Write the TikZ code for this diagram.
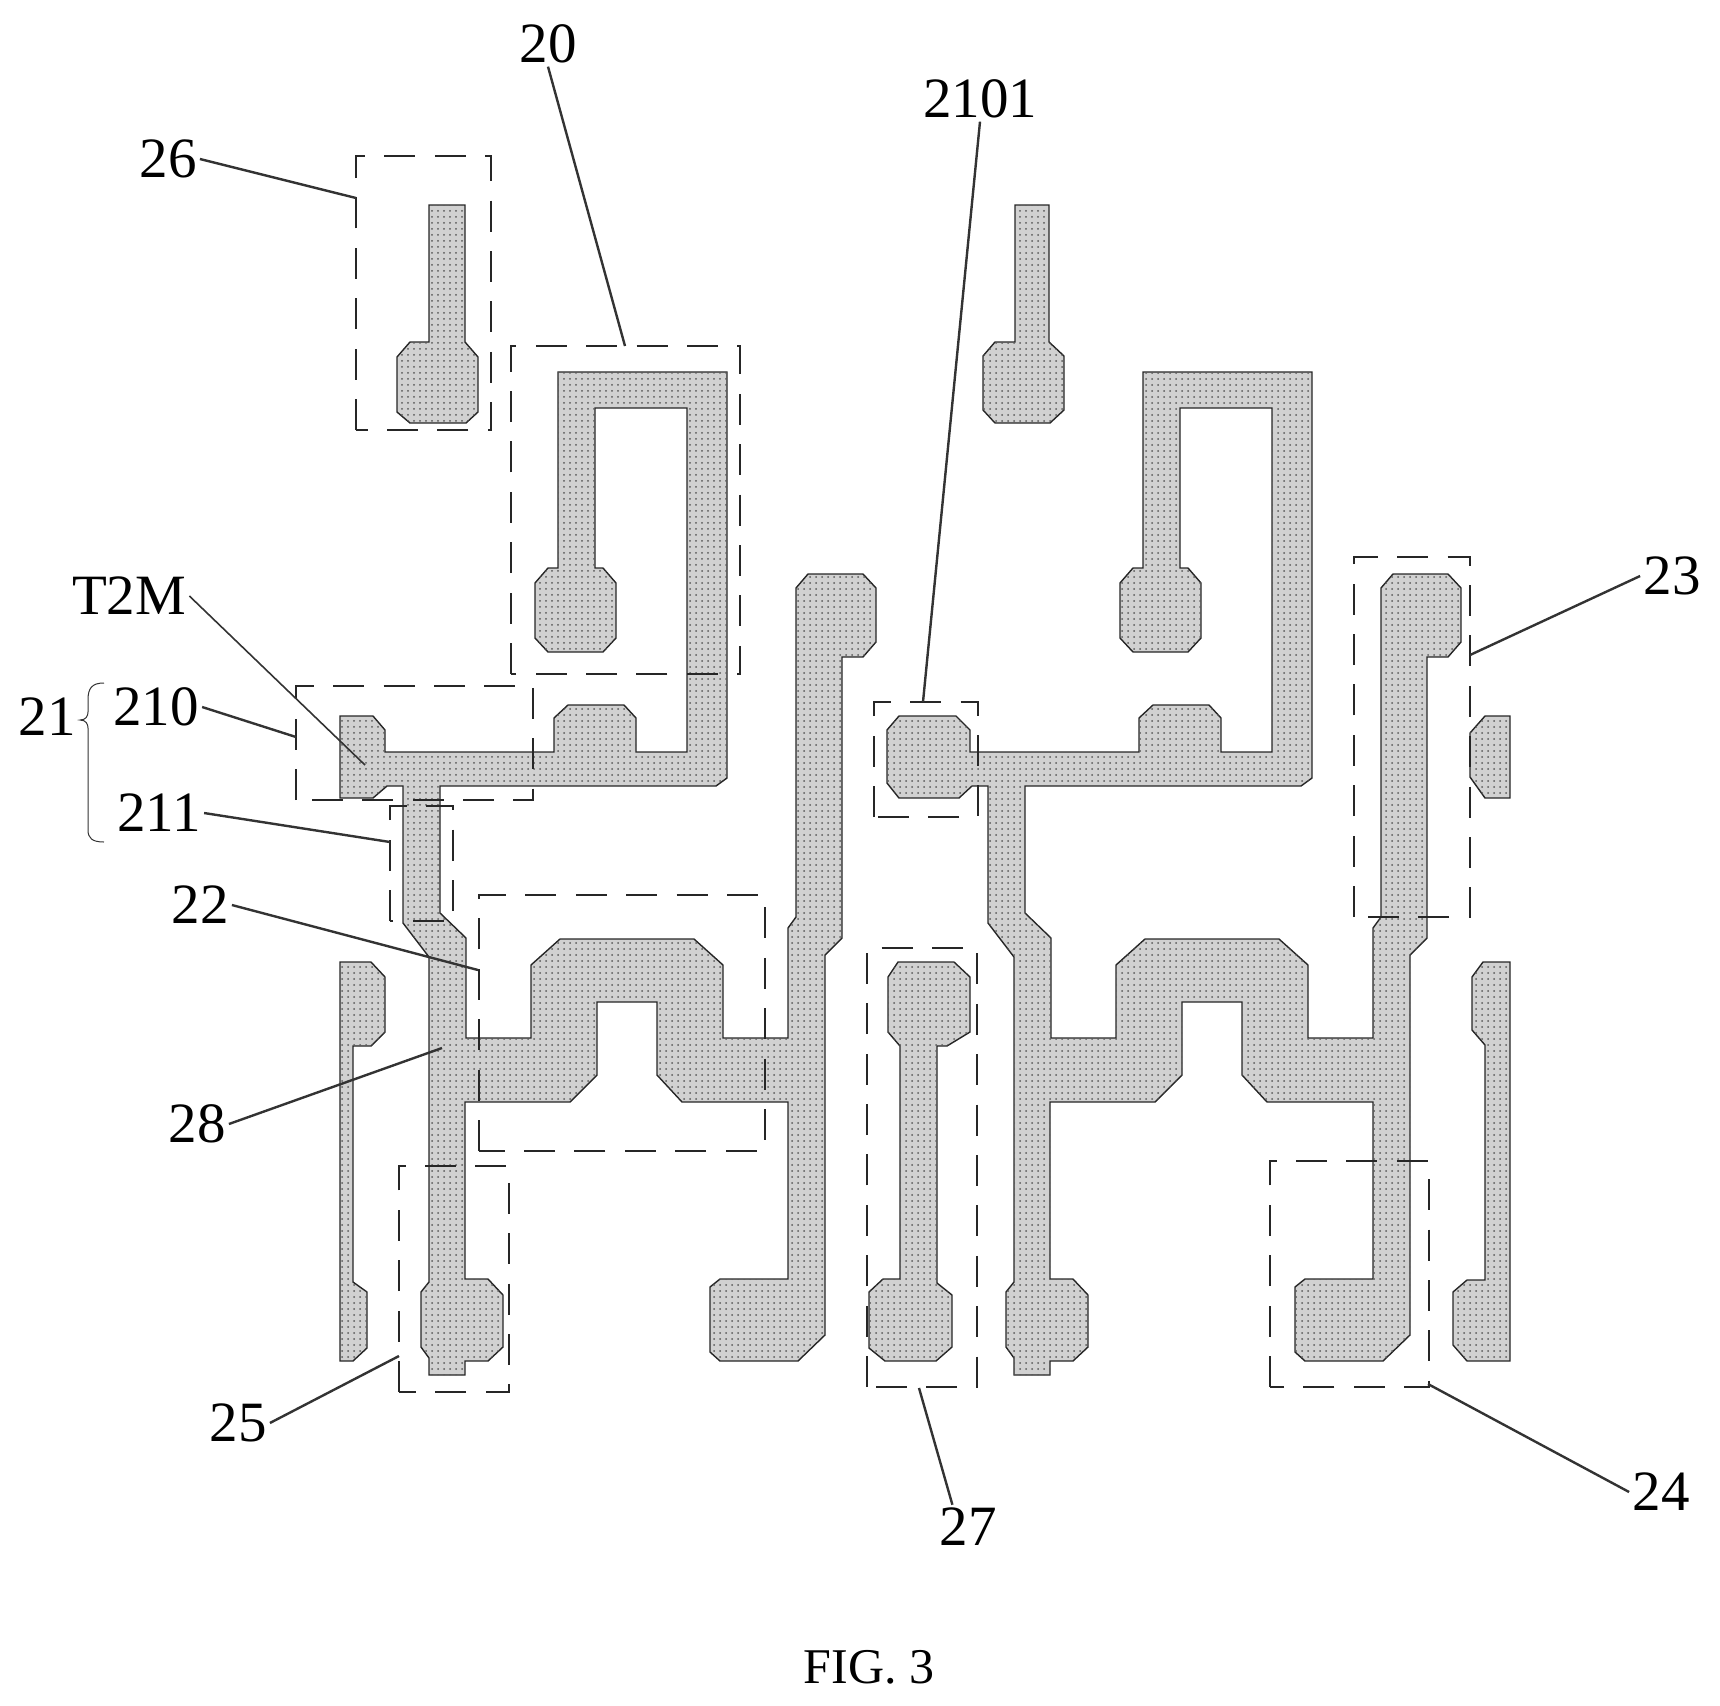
\documentclass[tikz,border=0pt]{standalone}
\usepackage{fontspec}
\setmainfont{Liberation Serif}
\usetikzlibrary{patterns}
\newcommand{\cellbody}{(385,730) -- (385,752) -- (554,752) -- (554,718) -- (568,705) -- (624,705) -- (636,718) -- (636,752) -- (687,752) -- (687,408) -- (595,408) -- (595,568) -- (603,568) -- (616,583) -- (616,638) -- (603,652) -- (548,652) -- (535,638) -- (535,583) -- (548,568) -- (558,568) -- (558,372) -- (727,372) -- (727,778) -- (716,786) -- (440,786) -- (440,913) -- (466,938) -- (466,1038) -- (531,1038) -- (531,965) -- (560,939) -- (694,939) -- (723,965) -- (723,1038) -- (788,1038) -- (788,928) -- (796,917) -- (796,588) -- (808,574) -- (863,574) -- (876,588) -- (876,642) -- (863,657) -- (842,657) -- (842,938) -- (825,955) -- (825,1335) -- (798,1361) -- (720,1361) -- (710,1352) -- (710,1287) -- (720,1279) -- (788,1279) -- (788,1102) -- (682,1102) -- (657,1075) -- (657,1002) -- (597,1002) -- (597,1075) -- (570,1102) -- (465,1102) -- (465,1279) -- (488,1279) -- (503,1295) -- (503,1347) -- (488,1361) -- (465,1361) -- (465,1375) -- (429,1375) -- (429,1358) -- (421,1347) -- (421,1292) -- (429,1282) -- (429,957) -- (403,923) -- (403,786)}
\newcommand{\dashrect}[4]{\draw[dbox] (#1,#4) -- (#1,#2) -- (#3,#2) -- (#3,#4) -- cycle;}
\tikzset{
  metal/.style={draw=black!85,line width=0.7pt,fill=black!18,postaction={pattern=dots,pattern color=black!65}},
  dbox/.style={draw=black!85,line width=1.2pt,dash pattern=on 15.5pt off 9.7pt},
  leader/.style={draw=black!80,line width=1.2pt},
  lab/.style={inner sep=1.5pt,font=\fontsize{28.5}{30}\selectfont},
}
\begin{document}
\begin{tikzpicture}[x=0.5pt,y=-0.5pt]
\useasboundingbox (0,0) rectangle (1720,1705);
% metal: left cell and its right copy
\path[metal] (340,716) -- (373,716) -- \cellbody -- (387,786) -- (373,798) -- (340,798) -- cycle;
\begin{scope}[shift={(585,0)}]
\path[metal] (302,730) -- (314,716) -- (371,716) -- \cellbody -- (387,786) -- (374,798) -- (314,798) -- (302,783) -- cycle;
\end{scope}
% top stems with pads
\path[metal] (429,205) -- (465,205) -- (465,342) -- (478,357) -- (478,412) -- (466,423) -- (410,423) -- (397,412) -- (397,357) -- (410,342) -- (429,342) -- cycle;
\path[metal] (1015,205) -- (1049,205) -- (1049,342) -- (1064,356) -- (1064,410) -- (1050,423) -- (995,423) -- (983,410) -- (983,356) -- (995,342) -- (1015,342) -- cycle;
% left strip
\path[metal] (340,962) -- (371,962) -- (385,977) -- (385,1032) -- (371,1046) -- (353,1046) -- (353,1282) -- (367,1292) -- (367,1348) -- (353,1361) -- (340,1361) -- cycle;
% middle bar
\path[metal] (898,962) -- (954,962) -- (970,977) -- (970,1032) -- (947,1046) -- (937,1046) -- (937,1283) -- (952,1295) -- (952,1347) -- (936,1361) -- (885,1361) -- (869,1348) -- (869,1292) -- (883,1279) -- (900,1279) -- (900,1046) -- (888,1032) -- (888,977) -- cycle;
% right small pad and strip
\path[metal] (1485,716) -- (1510,716) -- (1510,798) -- (1485,798) -- (1470,777) -- (1470,733) -- cycle;
\path[metal] (1483,962) -- (1510,962) -- (1510,1361) -- (1467,1361) -- (1453,1345) -- (1453,1292) -- (1467,1280) -- (1485,1280) -- (1485,1045) -- (1472,1030) -- (1472,977) -- cycle;
% dashed outlines
\dashrect{356}{156}{491}{430}
\dashrect{511}{346}{740}{674}
\dashrect{296}{686}{533}{800}
\dashrect{390}{806}{453}{921}
\dashrect{479}{895}{765}{1151}
\dashrect{399}{1166}{509}{1392}
\dashrect{867}{948}{977}{1387}
\dashrect{1270}{1161}{1429}{1387}
\dashrect{1354}{557}{1470}{917}
\dashrect{874}{702}{978}{817}
% brace
\draw[draw=black!80,line width=0.5pt] (104,683) .. controls (92,683) and (88,688) .. (88,700) -- (88,712) .. controls (88,716) and (86,720) .. (80,720) .. controls (86,720) and (88,724) .. (88,728) -- (88,830) .. controls (88,838) and (92,842) .. (104,842);
% labels
\node[lab] (n20) at (548,44) {20};
\node[lab] (n26) at (168,159) {26};
\node[lab] (n2101) at (980,99) {2101};
\node[lab] (n23) at (1672,576) {23};
\node[lab] (nT) at (129,596) {T2M};
\node[lab] (n21) at (47,717) {21};
\node[lab] (n210) at (156,707) {210};
\node[lab] (n211) at (159,813) {211};
\node[lab] (n22) at (200,905) {22};
\node[lab] (n28) at (197,1124) {28};
\node[lab] (n25) at (238,1423) {25};
\node[lab] (n27) at (968,1527) {27};
\node[lab] (n24) at (1661,1492) {24};
\node[font=\fontsize{25}{28}\selectfont] (nfig) at (869,1667) {FIG. 3};
% leader ends
\coordinate (c20) at (625,346);
\coordinate (c26) at (356,198);
\coordinate (c2101) at (923,702);
\coordinate (c23) at (1470,655);
\coordinate (cT) at (365,765);
\coordinate (c210) at (296,737);
\coordinate (c211) at (390,842);
\coordinate (c22) at (478,970);
\coordinate (c28) at (442,1048);
\coordinate (c25) at (399,1356);
\coordinate (c27) at (919,1388);
\coordinate (c24) at (1428,1384);
\draw[leader] (n20.south) -- (c20);
\draw[leader] (n26.east) -- (c26);
\draw[leader] (n2101.south) -- (c2101);
\draw[leader] (n23.west) -- (c23);
\draw[leader,line width=0.8pt] (nT.east) -- (cT);
\draw[leader] (n210.east) -- (c210);
\draw[leader] (n211.east) -- (c211);
\draw[leader] (n22.east) -- (c22);
\draw[leader] (n28.east) -- (c28);
\draw[leader] (n25.east) -- (c25);
\draw[leader] (n27.125) -- (c27);
\draw[leader] (n24.west) -- (c24);
\end{tikzpicture}
\end{document}
